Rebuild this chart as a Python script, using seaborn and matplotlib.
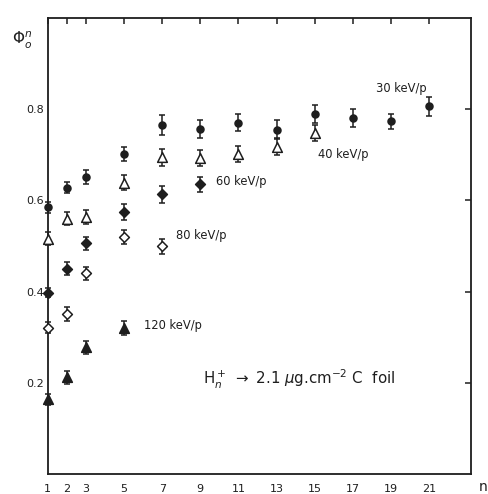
import matplotlib
matplotlib.use("Agg")
import matplotlib.pyplot as plt
import seaborn as sns
import pandas as pd
import numpy as np

# ---- data ----
n_30 = [1, 2, 3, 5, 7, 9, 11, 13, 15, 17, 19, 21]
phi_30 = [0.585, 0.628, 0.651, 0.702, 0.765, 0.756, 0.770, 0.755, 0.789, 0.781, 0.773, 0.806]
err_30 = [0.012, 0.012, 0.015, 0.016, 0.021, 0.020, 0.019, 0.020, 0.020, 0.020, 0.016, 0.021]

n_40 = [1, 2, 3, 5, 7, 9, 11, 13, 15]
phi_40 = [0.516, 0.560, 0.563, 0.639, 0.694, 0.693, 0.702, 0.718, 0.747]
err_40 = [0.014, 0.014, 0.015, 0.016, 0.018, 0.018, 0.017, 0.018, 0.018]

n_60 = [1, 2, 3, 5, 7, 9]
phi_60 = [0.398, 0.450, 0.506, 0.575, 0.613, 0.635]
err_60 = [0.010, 0.014, 0.014, 0.017, 0.018, 0.016]

n_80 = [1, 2, 3, 5, 7]
phi_80 = [0.321, 0.351, 0.440, 0.520, 0.499]
err_80 = [0.012, 0.015, 0.014, 0.016, 0.016]

n_120 = [1, 2, 3, 5]
phi_120 = [0.164, 0.212, 0.278, 0.320]
err_120 = [0.012, 0.014, 0.014, 0.016]

series_labels = ["30 keV/p", "40 keV/p", "60 keV/p", "80 keV/p", "120 keV/p"]
x_ticks = [1, 2, 3, 5, 7, 9, 11, 13, 15, 17, 19, 21]
y_ticks = [0.2, 0.4, 0.6, 0.8]
y_tick_labels = ["0.2", "0.4", "0.6", "0.8"]

# ---- style ----
sns.set_style("white")
plt.rcParams['font.family'] = ['DejaVu Sans']
ink = "#1e1e1e"

fig = plt.figure(figsize=(4.88, 4.94), dpi=100)
ax = fig.add_axes([0.098, 0.040, 0.867, 0.924])

series = [
    (n_30, phi_30, err_30, "o", ink, 5.0),
    (n_40, phi_40, err_40, "^", "white", 7.0),
    (n_60, phi_60, err_60, "D", ink, 5.0),
    (n_80, phi_80, err_80, "D", "white", 5.0),
    (n_120, phi_120, err_120, "^", ink, 7.0),
]

for (nx, ny, ne, mk, fc, ms), lab in zip(series, series_labels):
    df = pd.DataFrame({"n": nx, "phi": ny})
    ax.errorbar(nx, ny, yerr=ne, fmt="none", ecolor=ink, elinewidth=1.1,
                capsize=2.0, capthick=1.1, clip_on=False, zorder=2)
    sns.scatterplot(data=df, x="n", y="phi", marker=mk, s=ms ** 2,
                    color=fc, edgecolor=ink, linewidth=1.1, ax=ax,
                    clip_on=False, zorder=3, legend=False)

ax.set_xlim(1, 23.2)
ax.set_ylim(0, 1.0)
ax.set_xticks(x_ticks)
ax.set_xticklabels([str(t) for t in x_ticks])
ax.set_yticks(y_ticks)
ax.set_yticklabels(y_tick_labels)
ax.set_xlabel("")
ax.set_ylabel("")
ax.tick_params(axis="both", direction="in", length=4, width=1.1, color=ink,
               labelsize=8, labelcolor=ink, top=True, right=True,
               labeltop=False, labelright=False)
ax.tick_params(axis="x", pad=7)
ax.tick_params(axis="y", pad=3)
for sp in ax.spines.values():
    sp.set_visible(True)
    sp.set_color(ink)
    sp.set_linewidth(1.3)

# annotations
tk = dict(fontsize=8.3, color=ink, va="center", ha="left")
ax.text(18.2, 0.845, series_labels[0], **tk)
ax.text(15.2, 0.700, series_labels[1], **tk)
ax.text(9.85, 0.641, series_labels[2], **tk)
ax.text(7.75, 0.522, series_labels[3], **tk)
ax.text(6.05, 0.326, series_labels[4], **tk)
ax.text(9.15, 0.207, r"$\mathrm{H}_n^+$ $\rightarrow$ 2.1 $\mu$g.cm$^{-2}$ C  foil",
        fontsize=10.8, color=ink, va="center", ha="left")

fig.text(22 / 488, 1 - 40 / 494, r"$\Phi_o^n$", fontsize=11, color=ink,
         ha="center", va="center")
fig.text(483 / 488, 1 - 487 / 494, "n", fontsize=10, color=ink,
         ha="center", va="center")

fig.savefig("out.png", dpi=100, facecolor="white")
